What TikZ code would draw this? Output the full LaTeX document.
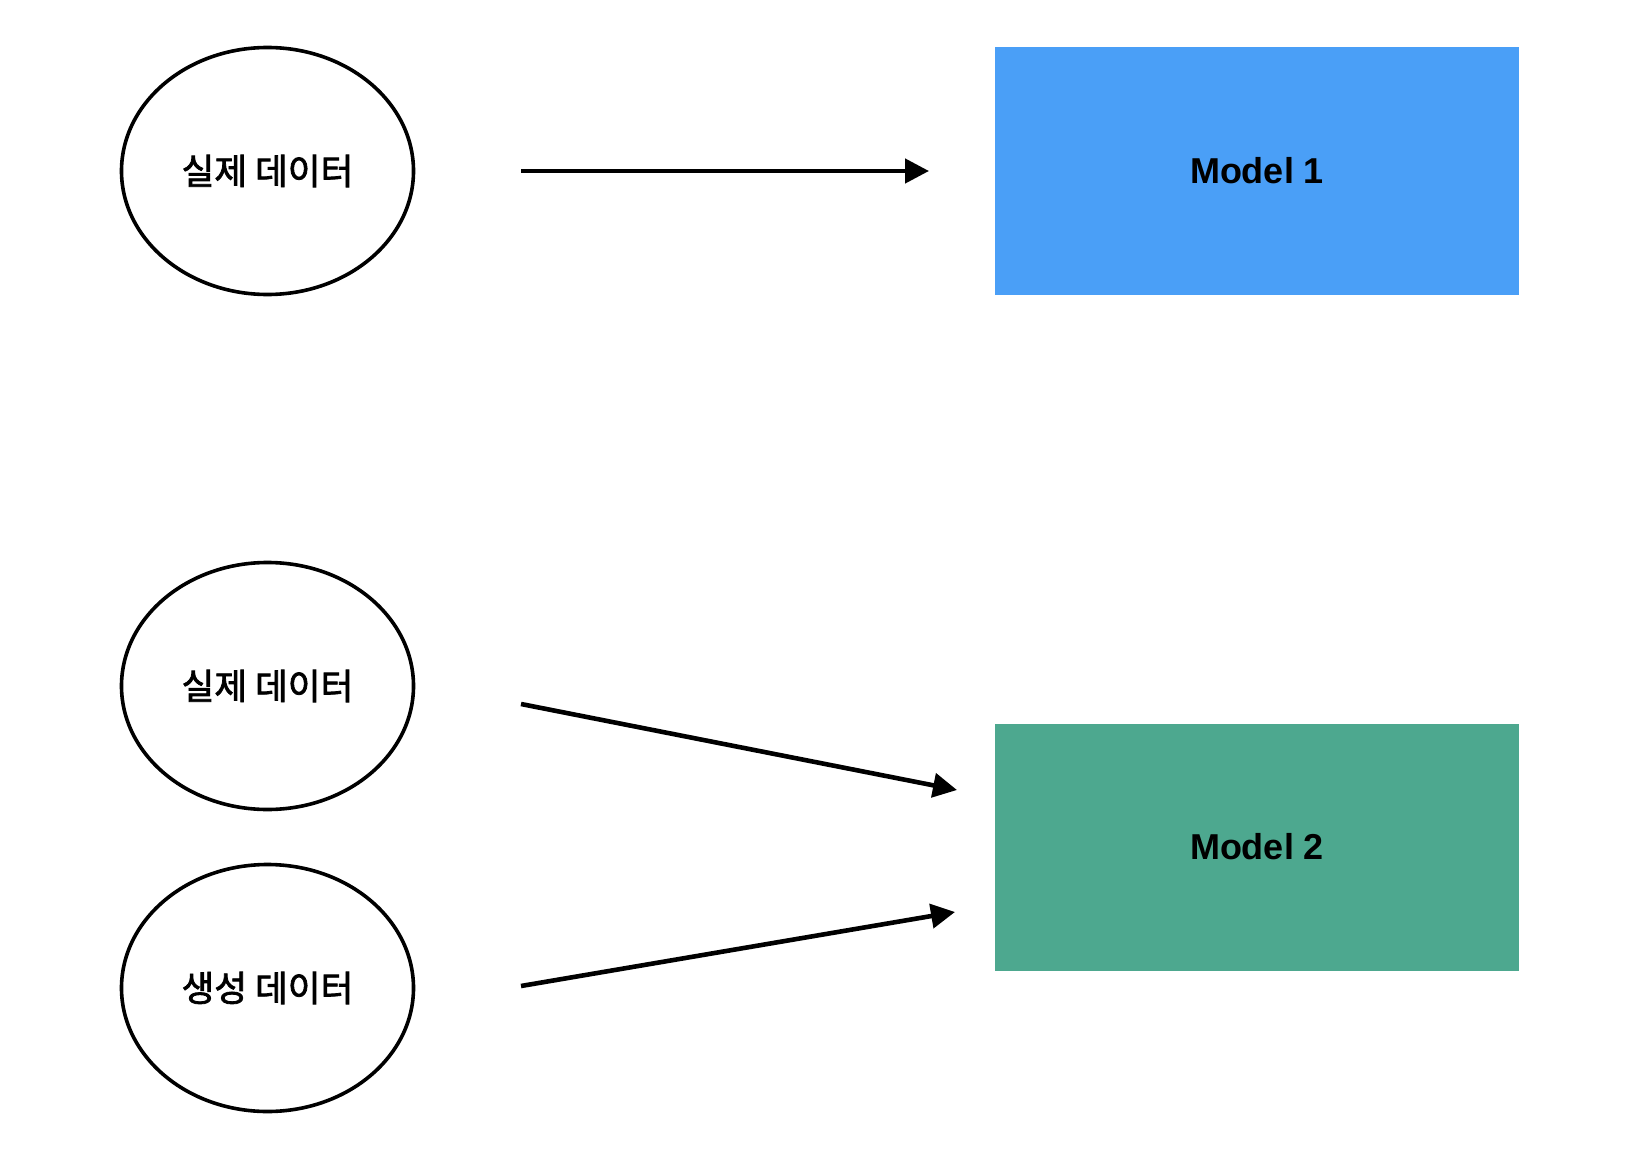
\documentclass[tikz,border=0pt]{standalone}
\usepackage{fontspec}
\setmainfont{Liberation Sans}
\newfontfamily\kr[FakeBold=2.2]{Noto Sans CJK KR}
\usetikzlibrary{shapes.geometric,arrows.meta}
\definecolor{mblue}{HTML}{4A9FF7}
\definecolor{mgreen}{HTML}{4DA88F}
\begin{document}
\begin{tikzpicture}[x=0.5pt,y=-0.5pt,
 datanode/.style={ellipse, draw=black, line width=1.8pt, minimum width=146pt, minimum height=123.5pt, inner sep=0pt, font=\kr\fontsize{17.8}{20}\selectfont},
 modelbox/.style={rectangle, inner sep=0pt, minimum width=262pt, minimum height=123.5pt, font=\bfseries\fontsize{18}{21}\selectfont},
 flow/.style={line width=2.3pt, -{Triangle[length=12pt,width=12pt]}}]
\useasboundingbox (0,0) rectangle (1642,1150);
\node[datanode] (real1) at (267.5,171) {실제 데이터};
\node[datanode] (real2) at (267.5,686) {실제 데이터};
\node[datanode] (gen) at (267.5,988) {생성 데이터};
\node[modelbox, fill=mblue] (m1) at (1257,171) {Model 1};
\node[modelbox, fill=mgreen] (m2) at (1257,847) {Model 2};
\coordinate (s1) at (521,171);
\coordinate (e1) at (929,171);
\coordinate (s2) at (521,704);
\coordinate (e2) at (957,790);
\coordinate (s3) at (521,986);
\coordinate (e3) at (955,912);
\draw[flow] (s1) -- (e1);
\draw[flow] (s2) -- (e2);
\draw[flow] (s3) -- (e3);
\end{tikzpicture}
\end{document}
